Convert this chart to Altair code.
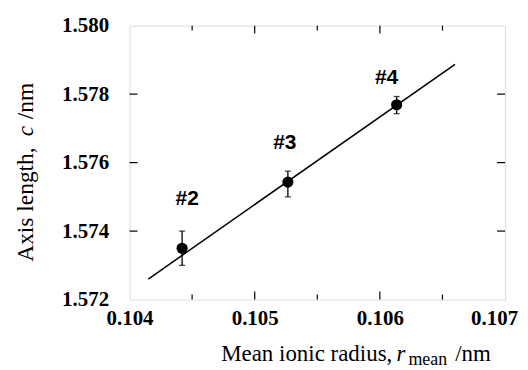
import altair as alt
import pandas as pd

# data
labels = ["#2", "#3", "#4"]
r_mean = [0.10442, 0.105265, 0.106134]
c_len = [1.57350, 1.57543, 1.57769]
c_lo = [1.57300, 1.57500, 1.57743]
c_hi = [1.57400, 1.57575, 1.57793]
label_x = [0.104461, 0.105241, 0.106053]
label_y = [1.574936, 1.576564, 1.578483]
fit_x = [0.10415, 0.10660]
fit_y = [1.57260, 1.57887]
x_ticks = [0.104, 0.105, 0.106, 0.107]
x_minor = [0.1045, 0.1055, 0.1065]
y_ticks = [1.572, 1.574, 1.576, 1.578, 1.580]

W, H = 377, 275
SERIF = "Liberation Serif"

pts = pd.DataFrame({"x": r_mean, "y": c_len, "lo": c_lo, "hi": c_hi})
lab = pd.DataFrame({"t": labels, "x": label_x, "y": label_y})
fit = pd.DataFrame({"x": fit_x, "y": fit_y})
xt = pd.DataFrame({"v": x_ticks[1:-1]})
xm = pd.DataFrame({"v": x_minor})
yt = pd.DataFrame({"v": y_ticks[1:-1]})

xs = alt.Scale(domain=[x_ticks[0], x_ticks[-1]], zero=False, nice=False)
ys = alt.Scale(domain=[y_ticks[0], y_ticks[-1]], zero=False, nice=False)

lab_common = dict(labelFont=SERIF, labelFontWeight="bold", labelFontSize=21,
                  labelColor="black", ticks=False, domain=False, grid=False,
                  title=None, format=".3f", labelOverlap=False, labelBound=False,
                  labelFlush=False)

X = alt.X("x:Q", scale=xs, axis=alt.Axis(
    values=x_ticks, labelPadding=8,
    labelOffset={"condition": {"test": "datum.value > 0.1069", "value": -11}, "value": 0},
    **lab_common))
Y = alt.Y("y:Q", scale=ys, axis=alt.Axis(values=y_ticks, labelPadding=21, **lab_common))

line = alt.Chart(fit).mark_line(color="black", strokeWidth=1.5).encode(x=X, y=Y)
err = alt.Chart(pts).mark_rule(color="black", strokeWidth=1.3).encode(
    x=alt.X("x:Q", scale=xs), y=alt.Y("lo:Q", scale=ys), y2="hi:Q")
cap_lo = alt.Chart(pts).mark_tick(orient="horizontal", size=6, thickness=1.3, color="black").encode(
    x=alt.X("x:Q", scale=xs), y=alt.Y("lo:Q", scale=ys))
cap_hi = alt.Chart(pts).mark_tick(orient="horizontal", size=6, thickness=1.3, color="black").encode(
    x=alt.X("x:Q", scale=xs), y=alt.Y("hi:Q", scale=ys))
dots = alt.Chart(pts).mark_circle(size=125, color="black", opacity=1).encode(
    x=alt.X("x:Q", scale=xs), y=alt.Y("y:Q", scale=ys))
txt = alt.Chart(lab).mark_text(font="Liberation Sans", fontWeight="bold", fontSize=21,
                               color="black", baseline="middle").encode(
    x=alt.X("x:Q", scale=xs), y=alt.Y("y:Q", scale=ys), text="t:N")

# inward ticks
def xtick(df, y0, y1):
    return alt.Chart(df).mark_rule(color="black", strokeWidth=1.2).encode(
        x=alt.X("v:Q", scale=xs), y=alt.value(y0), y2=alt.value(y1))

def ytick(df, x0, x1):
    return alt.Chart(df).mark_rule(color="black", strokeWidth=1.2).encode(
        y=alt.Y("v:Q", scale=ys), x=alt.value(x0), x2=alt.value(x1))

ticks = [xtick(xt, H, H - 8), xtick(xt, 0, 8), xtick(xm, H, H - 5), xtick(xm, 0, 5),
         ytick(yt, 0, 8), ytick(yt, W, W - 8)]

# axis titles with italic / subscript pieces
one = pd.DataFrame({"a": [0]})
def t(s, x, y, size=23, style="normal", angle=0, align="left"):
    return alt.Chart(one).mark_text(text=s, font=SERIF, fontSize=size, fontStyle=style,
                                    align=align, baseline="alphabetic", angle=angle,
                                    color="black").encode(x=alt.value(x), y=alt.value(y))

xtitle = [t("Mean ionic radius,", 92, 337), t("r", 268, 337, style="italic"),
          t("mean", 280, 341, size=18), t("/nm", 327, 337)]
ytitle = [t("Axis length,", -97, 237, size=23.5, angle=270),
          t("c", -97, 111, size=23.5, style="italic", angle=270),
          t("/nm", -97, 94, size=23.5, angle=270)]

chart = alt.layer(line, err, cap_lo, cap_hi, dots, txt, *ticks, *xtitle, *ytitle).properties(
    width=W, height=H, autosize=alt.AutoSizeParams(type="none"),
    padding={"left": 122, "top": 17, "right": 15, "bottom": 70}
).configure_view(stroke="black", strokeWidth=1.5).configure(background="white")

chart.save("out.html", embed_options={"renderer": "svg", "actions": False})
